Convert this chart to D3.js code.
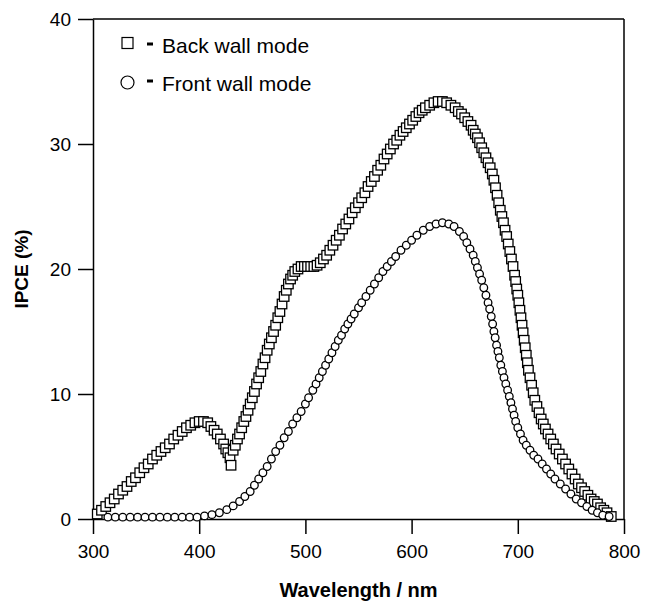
<!DOCTYPE html>
<html>
<head>
<meta charset="utf-8">
<script src="https://cdn.jsdelivr.net/npm/d3@7"></script>
<style>
  html, body { margin: 0; padding: 0; background: #fff; }
  svg { display: block; font-family: "Liberation Sans", Arial, Helvetica, sans-serif; }
</style>
</head>
<body>
<div id="chart"></div>
<script>
// IPCE spectra, back wall vs front wall illumination

const backWavelength = [
  304, 308, 312, 316, 320, 324, 328, 332, 336, 340, 344, 348, 352, 356, 360, 364, 368, 372, 376, 380,
  384, 388, 392, 396, 400, 404, 408, 411, 414, 417, 420, 423, 425, 427, 429, 430, 432, 434, 436, 438,
  440, 442, 444, 446, 448, 450, 452, 454, 456, 458, 460, 462, 464, 466, 468, 470, 472, 474, 476, 478,
  480, 482, 484, 486, 488, 490, 493, 496, 499, 502, 505, 508, 511, 514, 517, 520, 523, 526, 529, 532,
  535, 538, 541, 544, 547, 550, 553, 556, 559, 562, 565, 568, 571, 574, 577, 580, 583, 586, 589, 592,
  595, 598, 601, 604, 607, 610, 613, 617, 621, 625, 629, 633, 637, 641, 644, 647, 650, 653, 656, 658,
  660, 662, 664, 666, 668, 670, 672, 674, 676, 677.5, 679, 680.5, 682, 683.5, 685, 686.5, 688, 689.5, 691, 692.5,
  694, 695.5, 697, 698, 699, 700, 701, 702, 703, 704, 705, 706, 707, 708, 709, 710, 711.5, 713, 714.5, 716,
  718, 720, 722, 724, 726, 728.5, 731, 733.5, 736, 739, 742, 745, 748, 751, 754, 757, 760, 763, 766, 769,
  772, 775, 778, 781, 784, 788
];
const backIPCE = [
  0.4, 0.7, 1.0, 1.3, 1.6, 2.0, 2.3, 2.6, 3.0, 3.3, 3.7, 4.1, 4.4, 4.8, 5.1, 5.4, 5.7, 6.0, 6.4, 6.7,
  7.0, 7.3, 7.5, 7.7, 7.8, 7.8, 7.7, 7.4, 7.1, 6.8, 6.4, 6.0, 5.6, 5.3, 4.9, 4.3, 5.5, 5.9, 6.4, 6.8,
  7.3, 7.8, 8.2, 8.7, 9.2, 9.7, 10.2, 10.8, 11.3, 11.8, 12.4, 12.9, 13.5, 14.0, 14.5, 15.0, 15.5, 16.1, 16.6, 17.2,
  17.8, 18.3, 18.8, 19.2, 19.5, 19.8, 20.0, 20.2, 20.2, 20.2, 20.2, 20.2, 20.3, 20.5, 20.8, 21.1, 21.5, 21.9, 22.3, 22.7,
  23.2, 23.6, 24.0, 24.5, 24.9, 25.3, 25.7, 26.1, 26.6, 27.0, 27.4, 27.9, 28.3, 28.8, 29.2, 29.6, 30.0, 30.3, 30.7, 31.0,
  31.3, 31.6, 31.9, 32.2, 32.5, 32.7, 32.9, 33.1, 33.3, 33.4, 33.4, 33.3, 33.1, 32.9, 32.6, 32.4, 32.1, 31.8, 31.5, 31.1,
  30.8, 30.5, 30.1, 29.7, 29.3, 28.9, 28.5, 28.1, 27.6, 27.1, 26.5, 25.9, 25.3, 24.7, 24.2, 23.7, 23.1, 22.6, 22.0, 21.4,
  20.8, 20.2, 19.5, 19.0, 18.4, 17.9, 17.3, 16.7, 16.1, 15.5, 14.9, 14.3, 13.7, 13.1, 12.5, 11.9, 11.3, 10.7, 10.1, 9.5,
  9.0, 8.5, 8.0, 7.6, 7.2, 6.8, 6.4, 6.0, 5.6, 5.2, 4.8, 4.4, 4.0, 3.6, 3.2, 2.8, 2.5, 2.2, 1.9, 1.6,
  1.4, 1.2, 0.9, 0.7, 0.5, 0.2
];

const frontWavelength = [
  314, 321, 328, 335, 342, 349, 356, 363, 370, 377, 384, 391, 398, 405, 412, 419, 426, 432, 438, 443,
  448, 452, 456, 460, 464, 468, 472, 476, 480, 484, 488, 492, 496, 500, 503, 507, 510, 513, 516, 519,
  522, 525, 528, 531, 534, 537, 540, 543, 546, 550, 553, 557, 561, 565, 569, 573, 577, 581, 585, 590,
  595, 600, 605, 611, 617, 623, 629, 635, 640, 645, 649, 652, 655, 658, 660, 662, 664, 666, 668, 670,
  672, 673.5, 675, 676.3, 677.5, 678.7, 680, 681.3, 682.6, 684, 685.5, 687, 688.7, 690.4, 692, 693.5, 695, 696.5, 698, 700,
  702.5, 705, 708, 711.5, 715, 719, 723, 727, 731, 735, 740, 745, 750, 755, 760, 765, 770, 775, 780, 786
];
const frontIPCE = [
  0.15, 0.15, 0.15, 0.15, 0.15, 0.15, 0.15, 0.15, 0.15, 0.15, 0.15, 0.15, 0.15, 0.25, 0.35, 0.5, 0.75, 1.05, 1.4, 1.8,
  2.2, 2.7, 3.2, 3.7, 4.2, 4.8, 5.4, 5.9, 6.5, 7.0, 7.6, 8.1, 8.6, 9.2, 9.7, 10.3, 10.8, 11.3, 11.8, 12.3,
  12.8, 13.3, 13.8, 14.3, 14.7, 15.2, 15.6, 16.0, 16.4, 16.9, 17.3, 17.8, 18.3, 18.8, 19.3, 19.8, 20.2, 20.6, 21.0, 21.5,
  21.9, 22.3, 22.7, 23.1, 23.4, 23.6, 23.7, 23.6, 23.4, 23.0, 22.6, 22.1, 21.6, 21.1, 20.6, 20.1, 19.6, 19.1, 18.5, 17.9,
  17.3, 16.8, 16.2, 15.6, 15.0, 14.5, 13.9, 13.4, 12.9, 12.3, 11.8, 11.3, 10.8, 10.3, 9.8, 9.3, 8.8, 8.3, 7.8, 7.3,
  6.8, 6.3, 5.9, 5.5, 5.1, 4.8, 4.4, 4.0, 3.6, 3.2, 2.8, 2.4, 2.0, 1.6, 1.3, 1.0, 0.7, 0.5, 0.3, 0.2
];

const xTicks = [300, 400, 500, 600, 700, 800];
const yTicks = [0, 10, 20, 30, 40];
const legendLabels = ["Back wall mode", "Front wall mode"];

const width = 645, height = 602;
const margin = { top: 19, right: 21, bottom: 83, left: 93 };
const innerW = width - margin.left - margin.right;
const innerH = height - margin.top - margin.bottom;

const svg = d3.select("#chart").append("svg")
  .attr("width", width)
  .attr("height", height);

const g = svg.append("g")
  .attr("transform", `translate(${margin.left},${margin.top})`);

const x = d3.scaleLinear().domain([300, 800]).range([0, innerW]);
const y = d3.scaleLinear().domain([0, 40]).range([innerH, 0]);

const xAxis = d3.axisBottom(x)
  .tickValues(xTicks)
  .tickSize(15)
  .tickSizeOuter(0)
  .tickPadding(11)
  .tickFormat(d3.format("d"));

const yAxis = d3.axisLeft(y)
  .tickValues(yTicks)
  .tickSize(15)
  .tickSizeOuter(0)
  .tickPadding(7)
  .tickFormat(d3.format("d"));

g.append("g")
  .attr("class", "x-axis")
  .attr("transform", `translate(0,${innerH})`)
  .call(xAxis);

g.append("g")
  .attr("class", "y-axis")
  .call(yAxis);

// top and right frame
g.append("line")
  .attr("x1", 0).attr("x2", innerW)
  .attr("y1", 0).attr("y2", 0)
  .attr("stroke", "#000").attr("stroke-width", 1.5);
g.append("line")
  .attr("x1", innerW).attr("x2", innerW)
  .attr("y1", 0).attr("y2", innerH)
  .attr("stroke", "#000").attr("stroke-width", 1.5);

g.selectAll(".x-axis path, .y-axis path, .x-axis line, .y-axis line")
  .attr("stroke", "#000")
  .attr("stroke-width", 1.5);

g.selectAll(".x-axis text, .y-axis text")
  .attr("fill", "#000")
  .style("font-size", "19px");

// axis titles
svg.append("text")
  .attr("x", margin.left + innerW / 2)
  .attr("y", 597)
  .attr("text-anchor", "middle")
  .style("font-size", "20px")
  .style("font-weight", "bold")
  .text("Wavelength / nm");

svg.append("text")
  .attr("transform", `translate(28,${margin.top + innerH / 2}) rotate(-90)`)
  .attr("text-anchor", "middle")
  .style("font-size", "19px")
  .style("font-weight", "bold")
  .text("IPCE (%)");

// data
const backData = backWavelength.map((w, i) => ({ w, v: backIPCE[i] }));
const frontData = frontWavelength.map((w, i) => ({ w, v: frontIPCE[i] }));

const sq = 9.5;
g.selectAll(".back-pt")
  .data(backData)
  .join("rect")
  .attr("class", "back-pt")
  .attr("x", d => x(d.w) - sq / 2)
  .attr("y", d => y(d.v) - sq / 2)
  .attr("width", sq)
  .attr("height", sq)
  .attr("fill", "#fff")
  .attr("stroke", "#000")
  .attr("stroke-width", 1.3);

g.selectAll(".front-pt")
  .data(frontData)
  .join("circle")
  .attr("class", "front-pt")
  .attr("cx", d => x(d.w))
  .attr("cy", d => y(d.v))
  .attr("r", 3.8)
  .attr("fill", "#fff")
  .attr("stroke", "#000")
  .attr("stroke-width", 1.3);

// legend
const legend = svg.append("g");
legend.append("rect")
  .attr("x", 122).attr("y", 37.5)
  .attr("width", 11).attr("height", 11)
  .attr("fill", "#fff").attr("stroke", "#000").attr("stroke-width", 1.2);
legend.append("circle")
  .attr("cx", 127.5).attr("cy", 82.5).attr("r", 6.5)
  .attr("fill", "#fff").attr("stroke", "#000").attr("stroke-width", 1.2);
[44, 81].forEach(yy => {
  legend.append("rect")
    .attr("x", 147).attr("y", yy - 1.5)
    .attr("width", 6).attr("height", 3)
    .attr("fill", "#000");
});
legend.selectAll(".legend-label")
  .data(legendLabels)
  .join("text")
  .attr("class", "legend-label")
  .attr("x", 162)
  .attr("y", (d, i) => i === 0 ? 53 : 91)
  .style("font-size", "21px")
  .text(d => d);
</script>
</body>
</html>
